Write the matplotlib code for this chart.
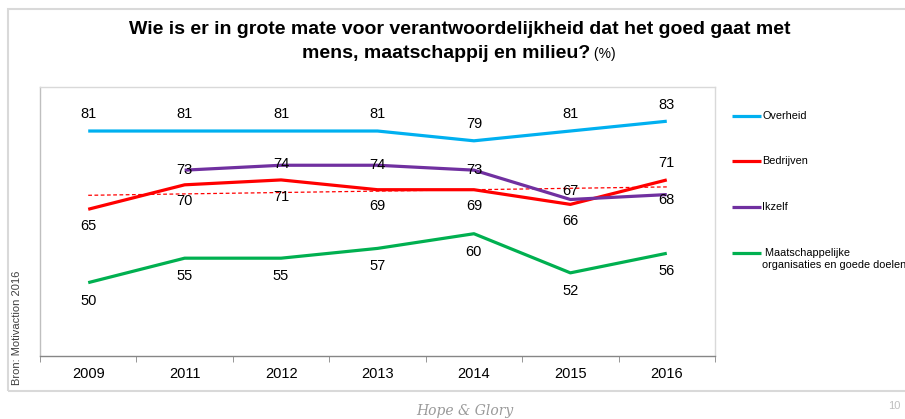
import numpy as np
import matplotlib
matplotlib.use('Agg')
import matplotlib.pyplot as plt
from matplotlib.lines import Line2D
from matplotlib.patches import Rectangle

plt.rcParams['font.family'] = ['Liberation Sans', 'DejaVu Sans']

years = ['2009', '2011', '2012', '2013', '2014', '2015', '2016']
overheid = [81, 81, 81, 81, 79, 81, 83]
bedrijven = [65, 70, 71, 69, 69, 66, 71]
ikzelf = [np.nan, 73, 74, 74, 73, 67, 68]
maatschappelijk = [50, 55, 55, 57, 60, 52, 56]
names = ['Overheid', 'Bedrijven', 'Ikzelf', ' Maatschappelijke\norganisaties en goede doelen']

W, H = 905, 419
fig = plt.figure(figsize=(W / 100, H / 100), dpi=100)

def fx(px):
    return px / W

def fy(py):
    return 1 - py / H

# outer frame of the slide box
fig.add_artist(Rectangle((fx(8), fy(391)), fx(905), fy(9) - fy(391), transform=fig.transFigure,
                         fill=False, edgecolor='#d9d9d9', lw=1.5))

ax = fig.add_axes([fx(40), fy(356), fx(715) - fx(40), fy(87) - fy(356)])
x = np.arange(len(years))

colors = ['#00b0f0', '#ff0000', '#7030a0', '#00b050']
series = [overheid, bedrijven, ikzelf, maatschappelijk]
for vals, c in zip(series, colors):
    ax.plot(x, vals, color=c, lw=2.3, solid_capstyle='butt', zorder=3)

# lineaire trendlijn bedrijven
k, b = np.polyfit(x, bedrijven, 1)
ax.plot(x, k * x + b, color='#ff0000', lw=0.9, ls=(0, (3, 2)), zorder=2)

# data labels (offset in points)
def labels(vals, offs):
    for i, (v, o) in enumerate(zip(vals, offs)):
        if np.isnan(v):
            continue
        ax.annotate(f'{v:.0f}', (x[i], v), xytext=(0, o), textcoords='offset points',
                    ha='center', va='center', fontsize=10.5, color='black', zorder=4)

labels(overheid, [12] * 7)
labels(bedrijven, [-12, -12, -12, -12, -12, -12, 12])
labels(ikzelf, [0, 0, 1, 0, 0, 6, -4])
labels(maatschappelijk, [-13] * 7)

ax.set_xlim(-0.5, len(years) - 0.5)
ax.set_ylim(35, 90)
ax.set_yticks([])
ax.set_xticks(x)
ax.set_xticklabels(years, fontsize=10.5)
ax.set_xticks(np.arange(len(years) + 1) - 0.5, minor=True)
ax.tick_params(axis='x', which='major', length=0, pad=8)
ax.tick_params(axis='x', which='minor', length=4, direction='out', color='#868686')
for s in ['top', 'right']:
    ax.spines[s].set_color('#d9d9d9')
ax.spines['left'].set_color('#bfbfbf')
ax.spines['bottom'].set_color('#868686')
for s in ax.spines.values():
    s.set_linewidth(1.0)

# legend
leg_y = [116, 161, 207, 253]
for c, name, y in zip(colors, names, leg_y):
    fig.add_artist(Line2D([fx(732), fx(761)], [fy(y), fy(y)], transform=fig.transFigure,
                          color=c, lw=2.3, solid_capstyle='butt'))
    if '\n' in name:
        fig.text(fx(762), fy(y - 5), name, fontsize=7.8, ha='left', va='top',
                 linespacing=1.3)
    else:
        fig.text(fx(762), fy(y), name, fontsize=7.8, ha='left', va='center')

# title
fig.text(fx(460), fy(30), 'Wie is er in grote mate voor verantwoordelijkheid dat het goed gaat met',
         fontsize=14, fontweight='bold', ha='center', va='center')
t1 = fig.text(0, fy(53), 'mens, maatschappij en milieu?', fontsize=14, fontweight='bold',
              ha='left', va='center')
t2 = fig.text(0, fy(54), ' (%)', fontsize=10, ha='left', va='center')
r = fig.canvas.get_renderer()
w1 = t1.get_window_extent(r).width
w2 = t2.get_window_extent(r).width
start = 459 - (w1 + w2) / 2
t1.set_x(fx(start))
t2.set_x(fx(start + w1))

fig.text(fx(17), fy(385), 'Bron: Motivaction 2016', rotation=90, fontsize=8, color='#404040',
         ha='center', va='bottom')

fig.text(fx(465), fy(411), 'Hope & Glory', fontsize=10, fontstyle='italic', family='DejaVu Serif',
         color='#9a9a9a', ha='center', va='center')
fig.text(fx(894), fy(406), '10', fontsize=8, color='#bfbfbf', ha='center', va='center')

fig.savefig('out.png', dpi=100)
